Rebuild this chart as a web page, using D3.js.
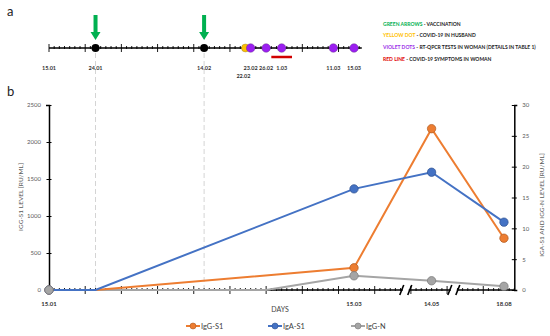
<!DOCTYPE html>
<html>
<head>
<meta charset="utf-8">
<script src="https://cdn.jsdelivr.net/npm/d3@7"></script>
<style>
  body { margin: 0; background: #fff; }
  svg { display: block; font-family: Lato, "Open Sans", sans-serif; }
</style>
</head>
<body>
<div id="chart"></div>
<script>
// --- data ---------------------------------------------------------------
// day index counted from 15.01 (axis after 15.03 is compressed by breaks)
var pointLabels = ["15.01", "24.01", "26.02", "15.03", "14.05", "18.08"];
var pointDays   = [0, 9, 42, 59, 74, 88];
var iggS1 = [0, 0, null, 300, 2180, 700];      // left axis
var igaS1 = [0, 0, null, 16.4, 19.1, 11.0];    // right axis
var iggN  = [0, null, 0, 2.3, 1.5, 0.6];       // right axis
var markerIdx = [0, 3, 4, 5];

var bottomLabels = ["15.01", "15.03", "14.05", "18.08"];
var bottomLabelDays = [0, 59, 74, 88];
var breakDays = [69, 78.3];

var leftTicks  = [0, 500, 1000, 1500, 2000, 2500];
var rightTicks = [0, 5, 10, 15, 20, 25, 30];

// panel a
var vaccDays = [9, 30];
var husbandDays = [38];
var testDays = [39, 42, 45, 55, 59];
var symptomDays = [43, 47];
var timelineLabels = ["15.01", "24.01", "14.02", "23.02", "26.02", "1.03", "11.03", "15.03"];
var timelineLabelDays = [0, 9, 30, 39, 42, 45, 55, 59];
var lowerLabel = ["22.02"], lowerLabelDay = [38];

var legendKeys = ["GREEN ARROWS", "YELLOW DOT", "VIOLET DOTS", "RED LINE"];
var legendTexts = [" -  VACCINATION", " - COVID-19 IN HUSBAND",
                   " - RT-QPCR TESTS IN WOMAN (DETAILS IN TABLE 1)", " - COVID-19 SYMPTOMS IN WOMAN"];
var legendColors = ["#00b050", "#ffc000", "#9b30e8", "#e00000"];

var seriesNames = ["IgG-S1", "IgA-S1", "IgG-N"];
var seriesColors = ["#ed7d31", "#4472c4", "#a5a5a5"];
var seriesStroke = ["#ae5a21", "#2f528f", "#787878"];

// --- layout -------------------------------------------------------------
var W = 550, H = 336;
var x = d3.scaleLinear().domain([0, 90]).range([49, 514.3]);
var yL = d3.scaleLinear().domain([0, 2500]).range([290, 105]);
var yR = d3.scaleLinear().domain([0, 30]).range([290, 105]);
var tlY = 48;

var svg = d3.select("#chart").append("svg").attr("width", W).attr("height", H);

svg.append("text").attr("x", 7).attr("y", 16).text("a")
  .style("font-size", "13px").style("fill", "#222");
svg.append("text").attr("x", 7).attr("y", 96).text("b")
  .style("font-size", "13px").style("fill", "#222");

// dashed vaccination guides
svg.selectAll(".guide").data(vaccDays).enter().append("line")
  .attr("x1", function(d) { return x(d); }).attr("x2", function(d) { return x(d); })
  .attr("y1", tlY + 5).attr("y2", 290)
  .attr("stroke", "#d4d4d4").attr("stroke-width", 1).attr("stroke-dasharray", "5,3");

// ---- panel a timeline ----
var tl = svg.append("g");
tl.append("line").attr("x1", x(0)).attr("x2", x(60.5)).attr("y1", tlY).attr("y2", tlY)
  .attr("stroke", "#000").attr("stroke-width", 1.3);
tl.selectAll(".tk").data(d3.range(0, 61)).enter().append("line")
  .attr("x1", function(d) { return x(d); }).attr("x2", function(d) { return x(d); })
  .attr("y1", function(d) { return d % 7 === 0 ? tlY - 4 : tlY - 2; })
  .attr("y2", function(d) { return d % 7 === 0 ? tlY + 4 : tlY + 1; })
  .attr("stroke", "#000").attr("stroke-width", 0.9);

tl.append("line").attr("x1", x(symptomDays[0])).attr("x2", x(symptomDays[1]))
  .attr("y1", tlY + 9).attr("y2", tlY + 9).attr("stroke", "#d00000").attr("stroke-width", 2.5);

tl.selectAll(".vd").data(vaccDays).enter().append("circle")
  .attr("cx", function(d) { return x(d); }).attr("cy", tlY).attr("r", 4).attr("fill", "#000");
tl.selectAll(".hd").data(husbandDays).enter().append("circle")
  .attr("cx", function(d) { return x(d); }).attr("cy", tlY).attr("r", 4)
  .attr("fill", "#ffc000").attr("stroke", "#8a7a40").attr("stroke-width", 0.4);
tl.selectAll(".td").data(testDays).enter().append("circle")
  .attr("cx", function(d) { return x(d); }).attr("cy", tlY).attr("r", 4.3)
  .attr("fill", "#9b1ff0").attr("stroke", "#5a2a80").attr("stroke-width", 0.4);

// green arrows
var arrow = d3.line();
tl.selectAll(".arrow").data(vaccDays).enter().append("path")
  .attr("d", function(d) {
    var cx = x(d);
    return arrow([[cx - 2, 15], [cx + 2, 15], [cx + 2, 32], [cx + 5, 32], [cx, 40],
                  [cx - 5, 32], [cx - 2, 32]]) + "Z";
  })
  .attr("fill", "#00b050");

tl.selectAll(".tlab").data(timelineLabels).enter().append("text")
  .attr("x", function(d, i) { return x(timelineLabelDays[i]); }).attr("y", 70)
  .attr("text-anchor", "middle").text(function(d) { return d; })
  .style("font-size", "5.5px").style("font-weight", "bold").style("fill", "#333");
tl.selectAll(".tlab2").data(lowerLabel).enter().append("text")
  .attr("x", function(d, i) { return x(lowerLabelDay[i]) - 2; }).attr("y", 77.5)
  .attr("text-anchor", "middle").text(function(d) { return d; })
  .style("font-size", "5.5px").style("font-weight", "bold").style("fill", "#333");

// panel a legend (font sized so the longest row is ~153px wide)
var lg = svg.append("g");
var legRows = legendKeys.map(function(k, i) {
  var t = lg.append("text").attr("x", 383).attr("y", 25.5 + i * 11.7)
    .style("font-size", "6px").style("font-weight", "bold");
  t.append("tspan").text(k).style("fill", legendColors[i]);
  t.append("tspan").text(legendTexts[i]).style("fill", "#222");
  return t;
});
var longest = d3.max(legRows, function(t) { return t.node().getComputedTextLength(); });
var fs = Math.min(6.6, 6 * 153 / longest);
legRows.forEach(function(t) { t.style("font-size", fs + "px"); });

// ---- panel b axes ----
var gl = svg.append("g").attr("transform", "translate(" + x(0) + ",0)")
  .call(d3.axisLeft(yL).tickValues(leftTicks).tickFormat(d3.format("d")).tickSize(3).tickPadding(5));
gl.select(".domain").attr("stroke", "#000").attr("stroke-width", 1.5);
gl.selectAll(".tick line").attr("x2", -2.5).attr("x1", 2.5);
gl.selectAll("text").style("font-size", "6px").style("fill", "#595959").style("font-family", "Lato, sans-serif");

var gr = svg.append("g").attr("transform", "translate(" + x(90) + ",0)")
  .call(d3.axisRight(yR).tickValues(rightTicks).tickFormat(d3.format("d")).tickSize(3).tickPadding(5));
gr.select(".domain").attr("stroke", "#000").attr("stroke-width", 1.5);
gr.selectAll(".tick line").attr("x2", 2.5).attr("x1", -2.5);
gr.selectAll("text").style("font-size", "6px").style("fill", "#595959").style("font-family", "Lato, sans-serif");

// bottom axis
var gb = svg.append("g");
gb.selectAll(".bt").data(d3.range(0, 91)).enter().append("line")
  .attr("x1", function(d) { return x(d); }).attr("x2", function(d) { return x(d); })
  .attr("y1", function(d) { return d % 7 === 0 ? 286 : 288; })
  .attr("y2", function(d) { return d % 7 === 0 ? 294 : 291; })
  .attr("stroke", "#000").attr("stroke-width", 0.9);
gb.append("line").attr("x1", x(0)).attr("x2", x(90)).attr("y1", 290).attr("y2", 290)
  .attr("stroke", "#000").attr("stroke-width", 1.5);
gb.selectAll(".brk").data(breakDays).enter().append("g")
  .attr("transform", function(d) { return "translate(" + x(d) + ",290)"; })
  .each(function() {
    var g = d3.select(this);
    g.append("rect").attr("x", -3).attr("y", -5).attr("width", 6).attr("height", 10).attr("fill", "#fff");
    g.append("line").attr("x1", -6).attr("y1", 5).attr("x2", -2).attr("y2", -5)
      .attr("stroke", "#000").attr("stroke-width", 1.6);
    g.append("line").attr("x1", 2).attr("y1", 5).attr("x2", 6).attr("y2", -5)
      .attr("stroke", "#000").attr("stroke-width", 1.6);
  });
gb.selectAll(".blab").data(bottomLabels).enter().append("text")
  .attr("x", function(d, i) { return x(bottomLabelDays[i]); }).attr("y", 306)
  .attr("text-anchor", "middle").text(function(d) { return d; })
  .style("font-size", "6px").style("font-weight", "bold").style("fill", "#333");

svg.append("text").attr("x", 280).attr("y", 312).attr("text-anchor", "middle").text("DAYS")
  .style("font-size", "7px").style("fill", "#444");
svg.append("text").attr("transform", "translate(23,197) rotate(-90)").attr("text-anchor", "middle")
  .text("IGG-S1 LEVEL [RU/ML]").style("font-size", "6.5px").style("fill", "#595959");
svg.append("text").attr("transform", "translate(544,205) rotate(-90)").attr("text-anchor", "middle")
  .text("IGA-S1 AND IGG-N LEVEL [RU/ML]").style("font-size", "6.5px").style("fill", "#595959");

// ---- series ----
var allSeries = [
  { vals: iggS1, y: yL },
  { vals: igaS1, y: yR },
  { vals: iggN,  y: yR }
];
var plot = svg.append("g");
// gray first, then orange, blue
var order = [2, 0, 1];
order.forEach(function(s) {
  var S = allSeries[s];
  var pts = pointDays.map(function(d, i) { return { d: d, v: S.vals[i] }; })
    .filter(function(p) { return p.v !== null; });
  plot.append("path").datum(pts)
    .attr("d", d3.line().x(function(p) { return x(p.d); }).y(function(p) { return S.y(p.v); }))
    .attr("fill", "none").attr("stroke", seriesColors[s]).attr("stroke-width", 2);
});
[0, 1, 2].forEach(function(s) {
  var S = allSeries[s];
  plot.selectAll(".m" + s).data(markerIdx).enter().append("circle")
    .attr("cx", function(i) { return x(pointDays[i]); })
    .attr("cy", function(i) { return S.y(S.vals[i]); })
    .attr("r", 4.2).attr("fill", seriesColors[s])
    .attr("stroke", seriesStroke[s]).attr("stroke-width", 0.7);
});

// bottom legend
var legX = [186, 268, 351];
var bl = svg.append("g");
seriesNames.forEach(function(n, i) {
  var g = bl.append("g").attr("transform", "translate(" + legX[i] + ",326)");
  g.append("line").attr("x1", 0).attr("x2", 14).attr("stroke", seriesColors[i]).attr("stroke-width", 2);
  g.append("circle").attr("cx", 7).attr("r", 3).attr("fill", seriesColors[i])
    .attr("stroke", seriesStroke[i]).attr("stroke-width", 0.6);
  g.append("text").attr("x", 15).attr("y", 2.6).text(n)
    .style("font-size", "7.4px").style("fill", "#404040");
});
</script>
</body>
</html>
